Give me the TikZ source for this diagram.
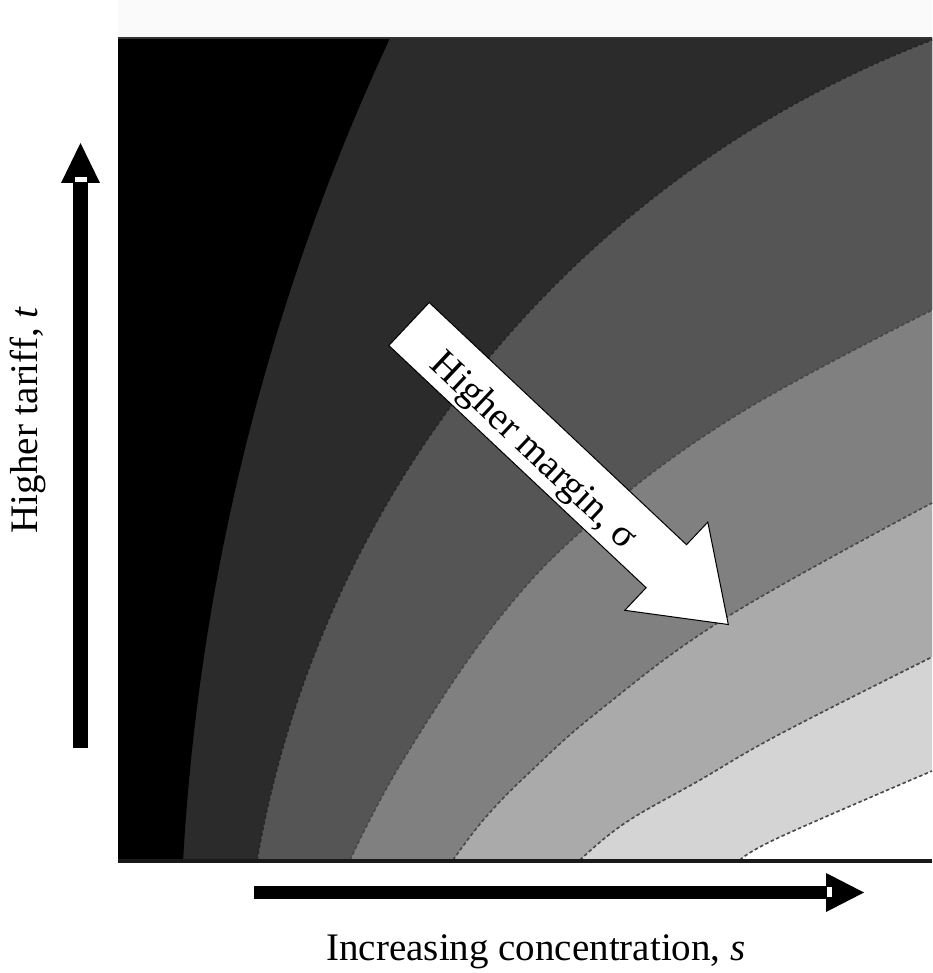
\documentclass[tikz,border=0pt]{standalone}
\usepackage{fontspec}
\setmainfont{Liberation Serif}
\definecolor{lvA}{HTML}{2B2B2B}
\definecolor{lvB}{HTML}{555555}
\definecolor{lvC}{HTML}{808080}
\definecolor{lvD}{HTML}{AAAAAA}
\definecolor{lvE}{HTML}{D4D4D4}
\begin{document}
\begin{tikzpicture}[x=1pt,y=-1pt,
  lbl/.style={font=\fontsize{39}{41}\selectfont, inner sep=0pt},
  bound/.style={draw=black!72, line width=1.6pt, dash pattern=on 3.5pt off 2.5pt},
  crv/.style={smooth, tension=0.65},
]
\useasboundingbox (0,0) rectangle (932,973);
% faint strip above the contour plot
\fill[black!2] (118,0) rectangle (932,37);
% corners of the contour plot
\coordinate (tl) at (118,38);
\coordinate (tr) at (932,38);
\coordinate (bl) at (118,860);
\coordinate (br) at (932,860);
\fill[white] (tl) rectangle (br);
% contour lines (levels 1 to 6)
\def\levA{plot[domain=183.24:205.03, samples=50] ({2422.3+2242.9*cos(\x)}, {986.8+2242.9*sin(\x)})}
\def\levB{plot[domain=189.86:249.06, samples=60] ({1316.2+1075.1*cos(\x)}, {1044.1+1075.1*sin(\x)})}
\def\levC{plot[crv] coordinates {(350,860) (403,760) (500,617) (600,515) (740,413) (932,310)}}
\def\levD{plot[crv] coordinates {(453,860) (485,818) (530,772) (600,710) (727,617) (932,503)}}
\def\levE{plot[crv] coordinates {(580,860) (625,823) (700,780) (780,734) (932,657)}}
\def\levF{plot[crv] coordinates {(740,860) (780,837) (932,771)}}
% filled bands, lightest first
\fill[lvE] \levF -- (tr) -- (tl) -- (bl) -- cycle;
\fill[lvD] \levE -- (tr) -- (tl) -- (bl) -- cycle;
\fill[lvC] \levD -- (tr) -- (tl) -- (bl) -- cycle;
\fill[lvB] \levC -- (tr) -- (tl) -- (bl) -- cycle;
\fill[lvA] \levB -- (tr) -- (tl) -- (bl) -- cycle;
\fill[black] \levA -- (tl) -- (bl) -- cycle;
% dashed contour lines
\draw[bound] \levF;
\draw[bound] \levE;
\draw[bound] \levD;
\draw[bound] \levC;
\draw[bound, draw=black!85] \levB;
% frame lines
\draw[black!80, line width=2pt] (tl) -- (tr);
\draw[black!90, line width=4pt] (118,861) -- (932,861);

% vertical block arrow
\coordinate (vtip) at (80.5,143);
\fill[black] (73.3,748) rectangle (87.7,183);
\fill[black] (61,183) -- (vtip) -- (100,183) -- cycle;
\fill[white] (75,177) rectangle (86.5,182);

% horizontal block arrow
\coordinate (htip) at (864,892.5);
\fill[black] (254,886) rectangle (826,899);
\fill[black] (826,873) -- (htip) -- (826,912) -- cycle;
\fill[white] (827,887) rectangle (832,897);

% diagonal white block arrow with its shadow
\coordinate (d1) at (429.2,302.5);
\coordinate (d2) at (686.5,544.7);
\coordinate (d3) at (707.8,522.1);
\coordinate (d4) at (728.3,624.5);
\coordinate (d5) at (624.8,610.3);
\coordinate (d6) at (646.1,587.7);
\coordinate (d7) at (388.8,345.5);
\fill[black, shift={(3,3)}] (d1) -- (d2) -- (d3) -- (d4) -- (d5) -- (d6) -- (d7) -- cycle;
\filldraw[fill=white, draw=black, line width=1pt] (d1) -- (d2) -- (d3) -- (d4) -- (d5) -- (d6) -- (d7) -- cycle;
\node[lbl, rotate=-43.3] (margin) at (533,452) {Higher margin, σ};

% axis labels
\node[lbl, rotate=90, anchor=base] (ylab) at (37,420) {Higher tariff, \textit{t}};
\node[lbl, anchor=base] (xlab) at (536,960) {Increasing concentration, \textit{s}};
\end{tikzpicture}
\end{document}
